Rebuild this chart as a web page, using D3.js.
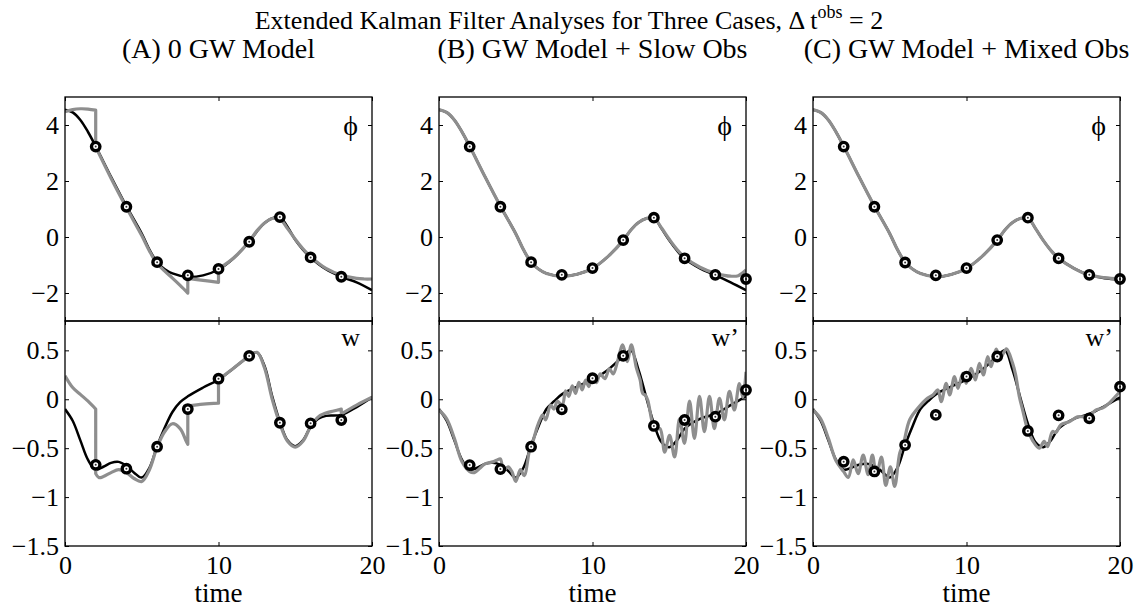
<!DOCTYPE html>
<html>
<head>
<meta charset="utf-8">
<script src="https://cdn.jsdelivr.net/npm/d3@7"></script>
<style>
  body { margin: 0; background: #fff; }
  svg { display: block; }
  text { font-family: "Liberation Serif", "Times New Roman", serif; fill: #000; }
</style>
</head>
<body>
<svg id="fig" width="1138" height="609"></svg>
<script>
// ---------- tick labels ----------
const timeTicks = [0, 10, 20];
const phiTicks = [-2, 0, 2, 4];
const wTicks = [-1.5, -1, -0.5, 0, 0.5];

// ---------- observation times ----------
const obsTimesA = [2, 4, 6, 8, 10, 12, 14, 16, 18];
const obsTimesBC = [2, 4, 6, 8, 10, 12, 14, 16, 18, 20];

// ---------- observations ----------
const obsA_phi = [3.23, 1.08, -0.90, -1.37, -1.14, -0.17, 0.71, -0.73, -1.42];
const obsA_w   = [-0.67, -0.71, -0.485, -0.10, 0.21, 0.443, -0.24, -0.246, -0.212];
const obsB_phi = [3.23, 1.08, -0.90, -1.35, -1.11, -0.11, 0.69, -0.76, -1.35, -1.50];
const obsB_w   = [-0.673, -0.714, -0.485, -0.103, 0.215, 0.444, -0.273, -0.212, -0.178, 0.095];
const obsC_phi = [3.23, 1.08, -0.91, -1.37, -1.11, -0.11, 0.69, -0.76, -1.35, -1.50];
const obsC_w   = [-0.639, -0.738, -0.468, -0.16, 0.232, 0.437, -0.324, -0.164, -0.195, 0.129];

// ---------- (A) 0 GW model: [time, value]; repeated time = jump at analysis ----------
const truthA_phi = [[0,4.55],[0.5,4.45],[1,4.18],[1.5,3.75],[2,3.24],[3,2.15],[4,1.1],[5,0.12],[5.5,-0.45],[6,-0.9],[6.5,-1.15],[7,-1.3],[8,-1.43],[9,-1.37],[10,-1.16],[11,-0.75],[12,-0.17],[12.5,0.2],[13,0.5],[13.5,0.67],[14,0.71],[14.5,0.36],[15,-0.1],[15.5,-0.45],[16,-0.73],[17,-1.15],[18,-1.42],[19,-1.62],[20,-1.9]];
const anaA_phi = [[0,4.47],[0.5,4.55],[1,4.58],[1.5,4.57],[2,4.53],[2,3.22],[3,2.1],[4,1.05],[5,0.05],[5.5,-0.5],[6,-0.95],[6.5,-1.22],[7,-1.47],[7.5,-1.73],[8,-2.0],[8,-1.48],[9,-1.55],[10,-1.62],[10,-1.14],[11,-0.74],[12,-0.15],[12.5,0.22],[13,0.5],[13.5,0.66],[14,0.64],[14.5,0.3],[15,-0.08],[15.5,-0.42],[16,-0.7],[17,-1.12],[18,-1.36],[19,-1.48],[19.5,-1.5],[20,-1.5]];
const truthA_w = [[0,-0.1],[0.5,-0.22],[1,-0.42],[1.5,-0.62],[2,-0.72],[2.5,-0.69],[3,-0.65],[3.5,-0.64],[4,-0.68],[4.5,-0.75],[5,-0.8],[5.5,-0.7],[6,-0.48],[6.5,-0.29],[7,-0.13],[7.5,-0.03],[8,0.03],[9,0.12],[10,0.2],[11,0.32],[12,0.44],[12.5,0.48],[13,0.34],[13.5,0.03],[14,-0.23],[14.5,-0.42],[15,-0.48],[15.5,-0.42],[16,-0.28],[16.5,-0.2],[17,-0.17],[18,-0.16],[19,-0.08],[20,0.02]];
const anaA_w = [[0,0.24],[0.5,0.12],[1,0.05],[1.5,-0.02],[2,-0.1],[2,-0.76],[2.2,-0.8],[2.5,-0.79],[3,-0.75],[3.5,-0.72],[4,-0.75],[4.5,-0.81],[5,-0.84],[5.5,-0.72],[6,-0.49],[6.5,-0.33],[7,-0.25],[7.5,-0.3],[7.9,-0.43],[8,-0.46],[8,-0.07],[9,-0.05],[10,-0.04],[10,0.2],[11,0.32],[12,0.44],[12.5,0.48],[13,0.32],[13.5,0.0],[14,-0.25],[14.5,-0.43],[15,-0.49],[15.5,-0.43],[16,-0.28],[16.5,-0.18],[17,-0.14],[17.5,-0.12],[18,-0.1],[18,-0.15],[19,-0.06],[20,0.02]];

// ---------- (B) GW model + slow obs ----------
const truthB_phi = [[0,4.55],[0.5,4.45],[1,4.18],[1.5,3.75],[2,3.24],[3,2.15],[4,1.1],[5,0.12],[5.5,-0.45],[6,-0.9],[6.5,-1.15],[7,-1.3],[8,-1.4],[9,-1.33],[10,-1.12],[11,-0.7],[12,-0.12],[12.5,0.25],[13,0.52],[13.5,0.66],[14,0.68],[14.5,0.3],[15,-0.12],[15.5,-0.48],[16,-0.77],[17,-1.12],[18,-1.36],[19,-1.62],[20,-1.9]];
const anaB_phi = [[0,4.55],[0.5,4.45],[1,4.18],[1.5,3.75],[2,3.24],[3,2.15],[4,1.1],[5,0.12],[5.5,-0.45],[6,-0.9],[6.5,-1.15],[7,-1.3],[8,-1.4],[9,-1.33],[10,-1.12],[11,-0.7],[12,-0.12],[12.5,0.25],[13,0.52],[13.5,0.66],[14,0.68],[14.5,0.32],[15,-0.08],[15.5,-0.44],[16,-0.72],[17,-1.08],[18,-1.3],[18.5,-1.36],[19,-1.4],[19.5,-1.38],[20,-1.18]];
const truthB_w = [[0,-0.1],[0.5,-0.22],[1,-0.42],[1.5,-0.62],[2,-0.72],[2.5,-0.7],[3,-0.66],[3.5,-0.65],[4,-0.67],[4.5,-0.73],[5,-0.8],[5.5,-0.7],[6,-0.47],[6.5,-0.27],[7,-0.1],[7.5,-0.02],[8,0.05],[9,0.13],[10,0.2],[11,0.3],[12,0.44],[12.5,0.5],[13,0.3],[13.5,0.02],[14,-0.25],[14.5,-0.44],[15,-0.49],[15.5,-0.42],[16,-0.3],[17,-0.2],[18,-0.15],[19,-0.06],[20,0.03]];
const anaB_w = [[0,-0.11],[0.5,-0.2],[1,-0.4],[1.5,-0.64],[2,-0.74],[2.3,-0.75],[2.7,-0.7],[3,-0.66],[3.5,-0.64],[3.8,-0.62],[4,-0.61],[4.2,-0.73],[4.5,-0.69],[4.75,-0.74],[5,-0.84],[5.3,-0.72],[5.55,-0.78],[5.9,-0.52],[6.1,-0.44],[6.4,-0.28],[6.6,-0.2],[6.75,-0.16],[6.95,-0.21],[7.27,-0.06],[7.49,-0.1],[7.71,-0.02],[8.03,-0.06],[8.25,0.085],[8.46,0.03],[8.68,0.136],[8.9,0.06],[9.11,0.174],[9.33,0.095],[9.55,0.197],[9.76,0.13],[9.98,0.22],[10.25,0.17],[10.5,0.26],[10.8,0.21],[11.1,0.31],[11.35,0.26],[11.65,0.4],[11.97,0.556],[12.27,0.385],[12.53,0.556],[12.86,0.32],[13.1,0.2],[13.27,0.06],[13.45,0.04],[13.6,-0.01],[13.92,-0.25],[14.13,-0.31],[14.4,-0.3],[14.7,-0.54],[15.02,-0.37],[15.35,-0.59],[15.67,-0.2],[15.99,-0.45],[16.32,-0.02],[16.64,-0.4],[16.97,0.03],[17.29,-0.33],[17.62,0.03],[17.94,-0.3],[18.27,0.01],[18.59,-0.21],[18.92,0.08],[19.24,-0.11],[19.57,0.16],[19.8,0.02],[20,0.28]];

// ---------- (C) GW model + mixed obs ----------
const truthC_phi = [[0,4.55],[0.5,4.45],[1,4.18],[1.5,3.75],[2,3.24],[3,2.15],[4,1.1],[5,0.12],[5.5,-0.45],[6,-0.9],[6.5,-1.15],[7,-1.3],[8,-1.42],[9,-1.34],[10,-1.12],[11,-0.7],[12,-0.12],[12.5,0.25],[13,0.52],[13.5,0.66],[14,0.68],[14.5,0.3],[15,-0.12],[15.5,-0.48],[16,-0.76],[17,-1.12],[18,-1.36],[19,-1.47],[20,-1.52]];
const anaC_phi = [[0,4.55],[0.5,4.45],[1,4.18],[1.5,3.75],[2,3.24],[3,2.15],[4,1.1],[5,0.12],[5.5,-0.45],[6,-0.9],[6.5,-1.15],[7,-1.3],[8,-1.42],[9,-1.34],[10,-1.12],[11,-0.7],[12,-0.12],[12.5,0.25],[13,0.52],[13.5,0.66],[14,0.68],[14.5,0.3],[15,-0.12],[15.5,-0.48],[16,-0.76],[17,-1.12],[18,-1.36],[19,-1.45],[20,-1.5]];
const truthC_w = [[0,-0.1],[0.5,-0.22],[1,-0.42],[1.5,-0.62],[2,-0.72],[2.5,-0.7],[3,-0.67],[3.5,-0.66],[4,-0.68],[4.5,-0.74],[5,-0.8],[5.5,-0.7],[6,-0.47],[6.5,-0.27],[7,-0.1],[7.5,-0.02],[8,0.05],[9,0.13],[10,0.2],[11,0.3],[12,0.44],[12.5,0.5],[13,0.3],[13.5,0.02],[14,-0.25],[14.5,-0.44],[15,-0.49],[15.5,-0.42],[16,-0.3],[17,-0.2],[18,-0.15],[19,-0.07],[20,0.02]];
const anaC_w = [[0,-0.11],[0.5,-0.2],[1,-0.4],[1.5,-0.63],[2,-0.74],[2.3,-0.8],[2.62,-0.62],[2.94,-0.76],[3.27,-0.57],[3.59,-0.77],[3.87,-0.57],[4.13,-0.78],[4.46,-0.59],[4.74,-0.88],[5.04,-0.69],[5.32,-0.89],[5.65,-0.55],[5.9,-0.45],[6.3,-0.21],[6.95,-0.07],[7.38,0.0],[7.81,0.044],[8.14,0.095],[8.35,-0.025],[8.68,0.163],[8.9,0.044],[9.22,0.232],[9.44,0.112],[9.76,0.266],[9.98,0.163],[10.3,0.317],[10.58,0.198],[10.84,0.368],[11.1,0.249],[11.38,0.437],[11.6,0.334],[11.93,0.512],[12.2,0.42],[12.6,0.515],[13,0.37],[13.2,0.25],[13.44,0.03],[13.66,-0.11],[13.98,-0.31],[14.3,-0.42],[14.74,-0.5],[15.06,-0.43],[15.28,-0.485],[15.6,-0.33],[15.82,-0.34],[16.15,-0.26],[16.69,-0.23],[17.23,-0.18],[17.66,-0.18],[18,-0.17],[18.42,-0.11],[18.85,-0.09],[19.29,-0.04],[19.6,0.01],[20,0.08]];

// ---------- panel titles / labels ----------
const panelTitles = ["(A) 0 GW Model", "(B) GW Model + Slow Obs", "(C) GW Model + Mixed Obs"];
const lowerLabels = ["w", "w\u2019", "w\u2019"];

const panels = [
  { title: panelTitles[0], wLabel: lowerLabels[0], truthPhi: truthA_phi, anaPhi: anaA_phi, truthW: truthA_w, anaW: anaA_w, obsT: obsTimesA,  obsPhi: obsA_phi, obsW: obsA_w },
  { title: panelTitles[1], wLabel: lowerLabels[1], truthPhi: truthB_phi, anaPhi: anaB_phi, truthW: truthB_w, anaW: anaB_w, obsT: obsTimesBC, obsPhi: obsB_phi, obsW: obsB_w },
  { title: panelTitles[2], wLabel: lowerLabels[2], truthPhi: truthC_phi, anaPhi: anaC_phi, truthW: truthC_w, anaW: anaC_w, obsT: obsTimesBC, obsPhi: obsC_phi, obsW: obsC_w }
];

// ---------- layout ----------
const svg = d3.select("#fig");
const left0 = 65, step = 374, pw = 307;
const yTop = 97, yMid = 321, yBot = 546;
const fontSize = 26;
const gray = "#8e8e8e";
const fmt = d3.format("~g");

// title with superscript
const title = svg.append("text")
  .attr("x", 569).attr("y", 29)
  .attr("text-anchor", "middle")
  .attr("font-size", fontSize);
title.append("tspan").text("Extended Kalman Filter Analyses for Three Cases, \u0394 t");
title.append("tspan").attr("font-size", 18).attr("dy", -11).text("obs");
title.append("tspan").attr("dy", 11).text(" = 2");

// smooth path that stays sharp where a time value repeats (analysis jump)
function pathWithJumps(pts, x, y) {
  const gen = d3.line().x(d => x(d[0])).y(d => y(d[1])).curve(d3.curveCatmullRom.alpha(0.5));
  const segs = [];
  let cur = [pts[0]];
  for (let i = 1; i < pts.length; i++) {
    if (pts[i][0] === pts[i - 1][0]) { segs.push(cur); cur = [pts[i]]; }
    else cur.push(pts[i]);
  }
  segs.push(cur);
  return segs.map((s, k) => {
    const d = s.length > 1 ? gen(s) : `M${x(s[0][0])},${y(s[0][1])}`;
    return k === 0 ? d : "L" + d.slice(1);
  }).join("");
}

function styleAxis(g) {
  g.select(".domain").remove();
  g.attr("font-size", fontSize).attr("font-family", "'Liberation Serif','Times New Roman',serif");
  g.selectAll(".tick line").attr("stroke", "#000").attr("stroke-width", 1);
  g.selectAll(".tick text").attr("fill", "#000");
}

panels.forEach((p, i) => {
  const L = left0 + i * step, R = L + pw;
  const x = d3.scaleLinear().domain([0, 20]).range([L, R]);
  const yPhi = d3.scaleLinear().domain([-3, 5]).range([yMid, yTop]);
  const yW = d3.scaleLinear().domain([-1.5, 0.8]).range([yBot, yMid]);
  const g = svg.append("g");

  // clip regions
  const defs = svg.append("defs");
  defs.append("clipPath").attr("id", `clipU${i}`).append("rect")
    .attr("x", L).attr("y", yTop).attr("width", pw).attr("height", yMid - yTop);
  defs.append("clipPath").attr("id", `clipL${i}`).append("rect")
    .attr("x", L).attr("y", yMid).attr("width", pw).attr("height", yBot - yMid);

  // subplot title
  g.append("text").attr("x", (L + R) / 2).attr("y", 58)
    .attr("text-anchor", "middle").attr("font-size", 28).text(p.title);

  // ----- axes ticks (inward, all four sides) -----
  g.append("g").attr("transform", `translate(${L},0)`)
    .call(d3.axisLeft(yPhi).tickValues(phiTicks).tickSizeInner(-4).tickSizeOuter(0).tickPadding(6).tickFormat(fmt))
    .call(styleAxis);
  g.append("g").attr("transform", `translate(${R},0)`)
    .call(d3.axisRight(yPhi).tickValues(phiTicks).tickSizeInner(-4).tickSizeOuter(0).tickFormat(""))
    .call(styleAxis);
  g.append("g").attr("transform", `translate(0,${yTop})`)
    .call(d3.axisTop(x).tickValues(timeTicks).tickSizeInner(-4).tickSizeOuter(0).tickFormat(""))
    .call(styleAxis);
  g.append("g").attr("transform", `translate(0,${yMid})`)
    .call(d3.axisBottom(x).tickValues(timeTicks).tickSizeInner(-4).tickSizeOuter(0).tickFormat(""))
    .call(styleAxis);

  g.append("g").attr("transform", `translate(${L},0)`)
    .call(d3.axisLeft(yW).tickValues(wTicks).tickSizeInner(-4).tickSizeOuter(0).tickPadding(6).tickFormat(fmt))
    .call(styleAxis);
  g.append("g").attr("transform", `translate(${R},0)`)
    .call(d3.axisRight(yW).tickValues(wTicks).tickSizeInner(-4).tickSizeOuter(0).tickFormat(""))
    .call(styleAxis);
  g.append("g").attr("transform", `translate(0,${yMid})`)
    .call(d3.axisTop(x).tickValues(timeTicks).tickSizeInner(-4).tickSizeOuter(0).tickFormat(""))
    .call(styleAxis);
  g.append("g").attr("transform", `translate(0,${yBot})`)
    .call(d3.axisBottom(x).tickValues(timeTicks).tickSizeInner(-4).tickSizeOuter(0).tickPadding(10).tickFormat(fmt))
    .call(styleAxis);

  // x label
  g.append("text").attr("x", (L + R) / 2).attr("y", 602)
    .attr("text-anchor", "middle").attr("font-size", 27).text("time");

  // ----- curves -----
  const up = g.append("g").attr("clip-path", `url(#clipU${i})`);
  up.append("path").attr("d", pathWithJumps(p.truthPhi, x, yPhi))
    .attr("fill", "none").attr("stroke", "#000").attr("stroke-width", 2.5).attr("stroke-linejoin", "round");
  up.append("path").attr("d", pathWithJumps(p.anaPhi, x, yPhi))
    .attr("fill", "none").attr("stroke", gray).attr("stroke-width", 3.2).attr("stroke-linejoin", "round");

  const lo = g.append("g").attr("clip-path", `url(#clipL${i})`);
  lo.append("path").attr("d", pathWithJumps(p.truthW, x, yW))
    .attr("fill", "none").attr("stroke", "#000").attr("stroke-width", 2.5).attr("stroke-linejoin", "round");
  lo.append("path").attr("d", pathWithJumps(p.anaW, x, yW))
    .attr("fill", "none").attr("stroke", gray).attr("stroke-width", 3.2).attr("stroke-linejoin", "round");

  // ----- observations -----
  function drawObs(sel, vals, y) {
    const pts = p.obsT.map((t, k) => [t, vals[k]]);
    sel.selectAll(null).data(pts).join("circle")
      .attr("cx", d => x(d[0])).attr("cy", d => y(d[1])).attr("r", 4.2)
      .attr("fill", "#fff").attr("stroke", "#000").attr("stroke-width", 3.4);
    sel.selectAll(null).data(pts).join("circle")
      .attr("cx", d => x(d[0])).attr("cy", d => y(d[1])).attr("r", 1)
      .attr("fill", "#333");
  }
  drawObs(g.append("g"), p.obsPhi, yPhi);
  drawObs(g.append("g"), p.obsW, yW);

  // ----- axes boxes -----
  g.append("rect").attr("x", L).attr("y", yTop).attr("width", pw).attr("height", yMid - yTop)
    .attr("fill", "none").attr("stroke", "#000").attr("stroke-width", 1.3);
  g.append("rect").attr("x", L).attr("y", yMid).attr("width", pw).attr("height", yBot - yMid)
    .attr("fill", "none").attr("stroke", "#000").attr("stroke-width", 1.3);

  // variable labels
  g.append("text").attr("x", R - 14).attr("y", 135).attr("text-anchor", "end")
    .attr("font-size", 28).text("\u03D5");
  g.append("text").attr("x", R - (i === 0 ? 12 : 7)).attr("y", 346).attr("text-anchor", "end")
    .attr("font-size", fontSize).text(p.wLabel);
});
</script>
</body>
</html>
